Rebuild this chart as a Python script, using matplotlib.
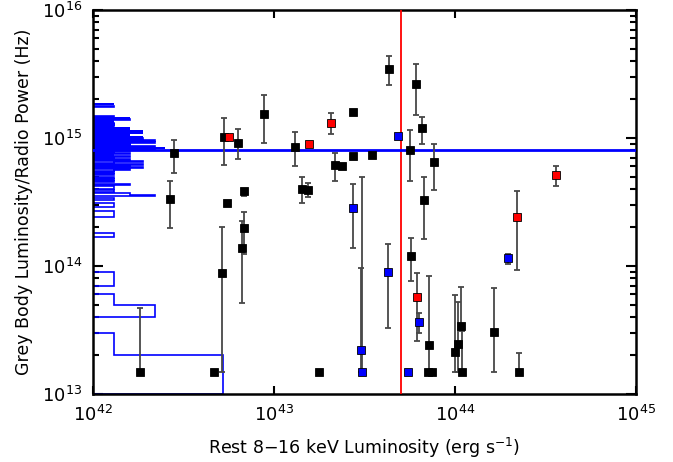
import numpy as np
import matplotlib.pyplot as plt

# black sources: x = rest 8-16 keV luminosity, y = grey body / radio power, lo/hi = error bar ends
blk_x = [1.82e42, 2.80e42, 2.66e42, 4.66e42, 5.16e42, 5.29e42, 6.33e42, 8.81e42, 5.50e42,
         6.83e42, 6.83e42, 6.66e42, 1.31e43, 1.43e43, 1.54e43, 2.73e43, 2.73e43, 2.17e43,
         2.38e43, 3.48e43, 1.77e43, 4.32e43, 6.09e43, 6.57e43, 5.64e43, 7.66e43, 6.74e43,
         5.71e43, 7.18e43, 7.10e43, 7.50e43, 1.00e44, 1.04e44, 1.08e44, 1.09e44, 1.64e44,
         2.26e44]
blk_y = [1.49e13, 7.60e14, 3.34e14, 1.49e13, 8.86e13, 1.02e15, 9.19e14, 1.55e15, 3.11e14,
         3.88e14, 1.97e14, 1.39e14, 8.55e14, 4.00e14, 3.92e14, 1.61e15, 7.27e14, 6.15e14,
         6.08e14, 7.36e14, 1.49e13, 3.46e15, 2.66e15, 1.20e15, 8.10e14, 6.53e14, 3.28e14,
         1.20e14, 2.41e13, 1.49e13, 1.49e13, 2.14e13, 2.47e13, 3.40e13, 1.49e13, 3.07e13,
         1.49e13]
blk_lo = [1.49e13, 5.36e14, 1.98e14, np.nan, 1.49e13, 6.18e14, 6.87e14, 9.19e14, np.nan,
          3.54e14, 1.23e14, 5.11e13, 6.04e14, 3.12e14, 3.44e14, np.nan, np.nan, 4.64e14,
          np.nan, np.nan, np.nan, 2.60e15, 1.52e15, 8.98e14, 4.64e14, 3.92e14, 1.62e14,
          7.63e13, 1.49e13, np.nan, np.nan, 1.49e13, 1.49e13, 3.40e13, 1.49e13, 1.49e13,
          1.49e13]
blk_hi = [4.70e13, 9.65e14, 4.61e14, np.nan, 2.01e14, 1.44e15, 1.17e15, 2.15e15, np.nan,
          3.88e14, 2.66e14, 2.26e14, 1.12e15, 4.99e14, 4.48e14, np.nan, np.nan, 7.60e14,
          np.nan, np.nan, np.nan, 4.39e15, 3.77e15, 1.47e15, 1.15e15, 8.98e14, 4.99e14,
          1.66e14, 8.35e13, np.nan, np.nan, 5.93e13, 5.23e13, 6.89e13, 3.10e13, 6.77e13,
          2.10e13]

red_x = [5.64e42, 1.56e43, 2.07e43, 6.17e43, 2.20e44, 3.61e44]
red_y = [1.02e15, 8.93e14, 1.32e15, 5.75e13, 2.41e14, 5.14e14]
red_lo = [np.nan, np.nan, 1.07e15, 2.61e13, 9.30e13, 4.22e14]
red_hi = [np.nan, np.nan, 1.56e15, 8.86e13, 3.85e14, 6.04e14]

blu_x = [4.84e43, 2.73e43, 3.02e43, 3.06e43, 4.26e43, 6.33e43, 5.50e43, 1.96e44]
blu_y = [1.04e15, 2.85e14, 2.21e13, 1.49e13, 9.03e13, 3.67e13, 1.49e13, 1.15e14]
blu_lo = [np.nan, 1.38e14, 1.49e13, 1.49e13, 3.30e13, 3.01e13, np.nan, 1.04e14]
blu_hi = [np.nan, 4.35e14, 9.64e13, 4.96e14, 1.49e14, 4.27e13, np.nan, 1.25e14]

# histogram of grey body luminosity/radio power, bins of 1e13 Hz starting at 1e13
hist_counts = [14, 1, 0, 4, 1, 0, 1, 1, 0, 0,
               0, 0, 0, 0, 0, 0, 1, 0, 0, 0,
               0, 0, 0, 1, 1, 1, 0, 0, 1, 1,
               0, 0, 1, 0, 4, 2, 0, 1, 0, 1,
               1, 0, 2, 0, 1, 0, 1, 0, 1, 0,
               1, 0, 1, 0, 1, 2, 0, 3, 0, 2,
               0, 3, 0, 1, 3, 0, 2, 0, 1, 0,
               2, 0, 1, 0, 2, 0, 1, 0, 2, 0,
               4, 0, 5, 0, 4, 1, 0, 2, 0, 2,
               0, 4, 0, 1, 4, 0, 2, 0, 3, 0,
               3, 0, 1, 0, 2, 0, 1, 0, 3, 0,
               2, 0, 3, 0, 2, 0, 1, 0, 2, 0,
               1, 0, 1, 0, 1, 0, 1, 0, 1, 0,
               1, 0, 1, 0, 1, 0, 2, 0, 2, 0,
               2, 0, 2, 0, 1, 0, 1, 0, 0, 0,
               0, 0, 0, 0, 0, 0, 0, 0, 0, 0,
               0, 0, 0, 0, 0, 0, 0, 0, 0, 0,
               0, 0, 0, 0, 0, 1, 0, 0, 0, 0,
               0, 0, 1, 0, 0, 0, 0, 0, 0, 0,
               0, 0, 0, 0, 0]
hist_bin = 1e13
hist_scale = 3e41   # x-units per count, drawn from the left axis at 1e42

lx_cut = 5e43       # red vertical line
ratio_mean = 8e14   # blue horizontal line

fig = plt.figure(figsize=(6.73, 4.62), dpi=100)
ax = fig.add_axes([93 / 673, 1 - 394 / 462, 543 / 673, 384 / 462])
ax.set_xscale('log')
ax.set_yscale('log')
ax.set_xlim(1e42, 1e45)
ax.set_ylim(1e13, 1e16)

# histogram along the y axis
edges = hist_bin * (1 + np.arange(len(hist_counts) + 1))
hx = 1e42 + hist_scale * np.array(hist_counts)
ax.stairs(hx, edges, orientation='horizontal', baseline=1e42, color='#0000ff', lw=1.2, zorder=2)

ax.axvline(lx_cut, color='#ff0000', lw=1.3, zorder=3)
ax.axhline(ratio_mean, color='#0000ff', lw=2, zorder=3)


def draw_group(x, y, lo, hi, face):
    x = np.array(x); y = np.array(y); lo = np.array(lo); hi = np.array(hi)
    has = ~np.isnan(lo)
    ax.errorbar(x[has], y[has], yerr=[y[has] - lo[has], hi[has] - y[has]], fmt='none',
                ecolor='#484848', elinewidth=1.3, capsize=2.2, capthick=1.3, zorder=4)
    ax.plot(x, y, 's', ms=5.6, mfc=face, mec='black', mew=0.6, zorder=5)


draw_group(blk_x, blk_y, blk_lo, blk_hi, 'black')
draw_group(red_x, red_y, red_lo, red_hi, '#ff0000')
draw_group(blu_x, blu_y, blu_lo, blu_hi, '#0000ff')

for s in ax.spines.values():
    s.set_linewidth(1.8)
ax.tick_params(which='both', direction='in', top=True, right=True, width=1.5, labelsize=13, pad=8)
ax.tick_params(axis='y', which='major', length=7)
ax.tick_params(axis='y', which='minor', length=4.5)
ax.tick_params(axis='x', which='major', length=5.5)
ax.xaxis.set_minor_locator(plt.NullLocator())
ax.set_xticks([1e42, 1e43, 1e44, 1e45])

ax.set_xlabel('Rest 8\u221216 keV Luminosity (erg s$^{-1}$)', fontsize=12.5, labelpad=8)
ax.set_ylabel('Grey Body Luminosity/Radio Power (Hz)', fontsize=12.5, labelpad=6)

fig.savefig('out.png', dpi=100)
